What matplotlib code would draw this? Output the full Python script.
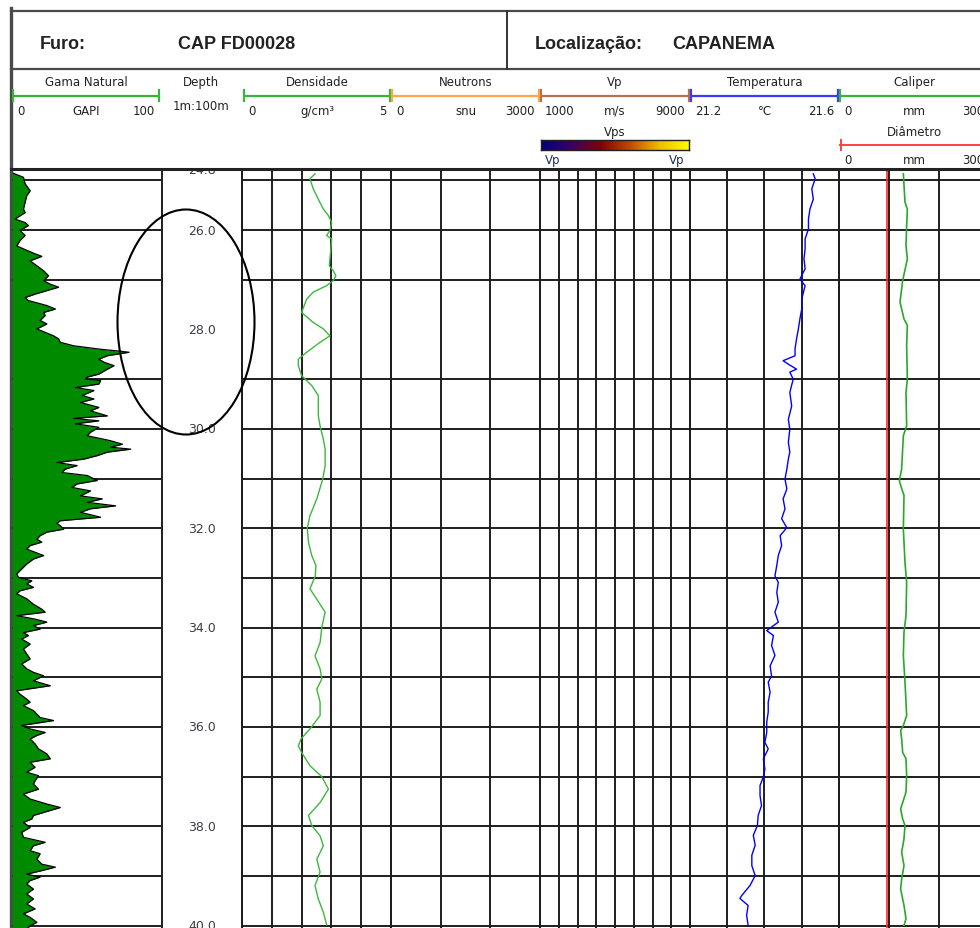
import numpy as np
import matplotlib
matplotlib.use("Agg")
import matplotlib.pyplot as plt
from matplotlib.patches import Ellipse
from matplotlib.colors import LinearSegmentedColormap

plt.rcParams['font.family'] = ['DejaVu Sans']

# ---------------------------------------------------------------- data
well_name = "CAP FD00028"
location = "CAPANEMA"

track_titles = ["Gama Natural", "Depth", "Densidade", "Neutrons", "Vp",
                "Temperatura", "Caliper"]

depth_labels = [26.0, 28.0, 30.0, 32.0, 34.0, 36.0, 38.0, 40.0]
top_depth_label = 24.8
grid_depths = [25, 26, 27, 29, 30, 31, 32, 33, 34, 35, 36, 37, 38, 39, 40]

gamma_depth = [24.86, 24.94, 25.07, 25.21, 25.31, 25.44, 25.58, 25.65, 25.78, 25.85,
               25.91, 26.01, 26.11, 26.21, 26.32, 26.38, 26.48, 26.53, 26.62, 26.72,
               26.82, 26.92, 27.02, 27.09, 27.15, 27.22, 27.29, 27.36, 27.42, 27.52,
               27.59, 27.66, 27.72, 27.82, 27.89, 27.99, 28.06, 28.13, 28.19, 28.26,
               28.33, 28.40, 28.44, 28.46, 28.53, 28.60, 28.66, 28.73, 28.80, 28.90,
               28.96, 29.00, 29.03, 29.10, 29.17, 29.23, 29.33, 29.40, 29.47, 29.57,
               29.64, 29.74, 29.79, 29.84, 29.90, 29.97, 30.07, 30.14, 30.24, 30.31,
               30.37, 30.41, 30.47, 30.54, 30.61, 30.68, 30.74, 30.81, 30.88, 30.94,
               31.04, 31.11, 31.18, 31.25, 31.35, 31.41, 31.48, 31.55, 31.61, 31.68,
               31.78, 31.85, 31.90, 31.95, 32.02, 32.08, 32.15, 32.22, 32.28, 32.35,
               32.42, 32.55, 32.62, 32.72, 32.82, 32.92, 32.99, 33.06, 33.12, 33.19,
               33.26, 33.32, 33.42, 33.53, 33.63, 33.69, 33.76, 33.83, 33.89, 33.96,
               34.03, 34.10, 34.16, 34.23, 34.33, 34.43, 34.53, 34.63, 34.73, 34.83,
               34.90, 34.97, 35.07, 35.17, 35.27, 35.34, 35.44, 35.50, 35.57, 35.67,
               35.74, 35.81, 35.87, 35.97, 36.04, 36.11, 36.17, 36.24, 36.34, 36.44,
               36.54, 36.64, 36.71, 36.81, 36.91, 36.98, 37.08, 37.15, 37.25, 37.35,
               37.45, 37.55, 37.62, 37.68, 37.78, 37.85, 37.92, 38.02, 38.12, 38.22,
               38.32, 38.39, 38.49, 38.55, 38.66, 38.76, 38.82, 38.89, 38.96, 39.02,
               39.09, 39.16, 39.26, 39.36, 39.46, 39.56, 39.66, 39.76, 39.83, 39.93,
               40.00, 40.06]
gamma_api = [1.0, 7.7, 8.8, 12.2, 9.9, 8.8, 7.7, 8.8, 2.0, 8.8,
             11.0, 5.4, 8.8, 5.4, 3.2, 7.7, 15.5, 20.0, 12.2, 16.7,
             21.2, 24.5, 21.2, 25.7, 31.3, 23.4, 15.5, 8.8, 11.0, 23.4,
             29.1, 21.2, 22.3, 18.9, 23.4, 16.7, 22.3, 27.9, 31.3, 32.4,
             41.4, 59.5, 73.0, 78.6, 64.0, 58.3, 61.7, 68.5, 64.0, 58.3,
             50.5, 49.3, 59.5, 58.3, 42.6, 55.0, 47.1, 55.0, 46.0, 58.3,
             52.7, 64.0, 41.4, 58.3, 42.6, 58.3, 52.7, 50.5, 66.2, 74.1,
             66.2, 79.7, 64.0, 57.2, 48.2, 30.2, 43.7, 35.8, 33.6, 50.5,
             57.2, 43.7, 40.3, 52.7, 46.0, 60.6, 50.5, 69.6, 52.7, 46.0,
             59.5, 32.4, 30.2, 32.4, 34.7, 23.4, 18.9, 16.7, 20.0, 12.2,
             9.9, 21.2, 14.4, 9.9, 6.5, 3.2, 4.3, 13.3, 9.9, 14.4,
             5.4, 3.2, 9.9, 14.4, 20.0, 22.3, 3.2, 15.5, 23.4, 14.4,
             18.9, 7.7, 11.0, 6.5, 12.2, 7.7, 9.9, 12.2, 6.5, 9.9,
             14.4, 21.2, 14.4, 25.7, 3.2, 5.4, 9.9, 12.2, 7.7, 14.4,
             16.7, 18.9, 27.9, 6.5, 12.2, 22.3, 16.7, 12.2, 15.5, 17.8,
             23.4, 25.7, 12.2, 15.5, 9.9, 17.8, 15.5, 14.4, 17.8, 7.7,
             12.2, 23.4, 32.4, 25.7, 14.4, 13.3, 7.7, 12.2, 6.5, 7.7,
             22.3, 14.4, 12.2, 18.9, 16.7, 20.0, 29.1, 20.0, 9.9, 18.9,
             12.2, 9.9, 14.4, 9.9, 14.4, 9.9, 15.5, 7.7, 12.2, 16.7,
             12.2, 10.0]

dens_depth = [24.87, 24.97, 25.17, 25.38, 25.58, 25.71, 25.85, 26.01, 26.11, 26.18,
              26.32, 26.58, 26.72, 26.82, 26.92, 27.02, 27.12, 27.25, 27.39, 27.66,
              27.86, 27.99, 28.13, 28.26, 28.46, 28.60, 28.73, 28.93, 29.13, 29.33,
              29.54, 29.74, 29.94, 30.21, 30.41, 30.74, 31.01, 31.41, 31.75, 32.00,
              32.28, 32.55, 32.75, 32.96, 33.22, 33.42, 33.69, 33.99, 34.30, 34.57,
              34.83, 35.03, 35.24, 35.50, 35.77, 36.04, 36.24, 36.38, 36.51, 36.78,
              37.00, 37.25, 37.52, 37.78, 37.98, 38.19, 38.39, 38.66, 38.92, 39.19,
              39.46, 39.73, 39.98]
dens_gcc = [2.45, 2.28, 2.39, 2.56, 2.73, 2.90, 3.01, 2.95, 2.84, 3.01,
            2.99, 2.95, 2.93, 3.06, 3.15, 3.06, 2.84, 2.39, 2.17, 2.00,
            2.39, 2.73, 2.95, 2.62, 2.17, 1.89, 1.89, 2.00, 2.34, 2.56,
            2.56, 2.56, 2.62, 2.73, 2.79, 2.79, 2.71, 2.51, 2.28, 2.19,
            2.23, 2.34, 2.48, 2.46, 2.28, 2.50, 2.79, 2.68, 2.62, 2.45,
            2.62, 2.68, 2.51, 2.62, 2.62, 2.28, 1.98, 1.89, 2.00, 2.28,
            2.68, 2.90, 2.62, 2.23, 2.34, 2.62, 2.73, 2.51, 2.62, 2.45,
            2.56, 2.73, 2.84]

temp_depth = [24.87, 24.97, 25.17, 25.38, 25.58, 25.78, 25.98, 26.18, 26.38, 26.58,
              26.78, 26.99, 27.12, 27.39, 27.59, 27.79, 27.99, 28.19, 28.39, 28.53,
              28.63, 28.70, 28.80, 28.86, 29.00, 29.27, 29.54, 29.81, 30.01, 30.27,
              30.47, 30.61, 30.81, 31.01, 31.21, 31.41, 31.61, 31.81, 31.99, 32.15,
              32.35, 32.55, 32.75, 32.96, 33.09, 33.29, 33.49, 33.69, 33.89, 34.06,
              34.16, 34.36, 34.56, 34.77, 34.97, 35.10, 35.30, 35.50, 35.70, 35.90,
              36.11, 36.31, 36.44, 36.64, 36.85, 37.00, 37.18, 37.38, 37.58, 37.78,
              37.98, 38.18, 38.38, 38.58, 38.79, 38.99, 39.19, 39.39, 39.45, 39.59,
              39.79, 39.99]
temp_c = [21.531, 21.536, 21.527, 21.531, 21.522, 21.518, 21.518, 21.509, 21.509, 21.506,
          21.509, 21.495, 21.509, 21.500, 21.500, 21.495, 21.491, 21.486, 21.482, 21.482,
          21.450, 21.464, 21.486, 21.468, 21.477, 21.468, 21.473, 21.464, 21.468, 21.464,
          21.468, 21.464, 21.460, 21.455, 21.460, 21.450, 21.455, 21.446, 21.460, 21.442,
          21.446, 21.437, 21.433, 21.428, 21.437, 21.433, 21.437, 21.428, 21.437, 21.406,
          21.424, 21.419, 21.428, 21.415, 21.419, 21.410, 21.415, 21.410, 21.410, 21.406,
          21.406, 21.401, 21.410, 21.397, 21.401, 21.397, 21.388, 21.388, 21.392, 21.383,
          21.381, 21.370, 21.375, 21.366, 21.366, 21.375, 21.361, 21.339, 21.334, 21.356,
          21.352, 21.356]

cal_depth = [24.87, 25.44, 25.58, 25.92, 26.32, 26.58, 27.02, 27.45, 27.79, 27.92,
             28.33, 29.00, 29.27, 29.94, 30.14, 30.41, 30.81, 31.04, 31.14, 31.34,
             32.02, 32.69, 33.09, 33.76, 34.09, 34.56, 35.10, 35.77, 35.97, 36.07,
             36.24, 36.51, 36.64, 36.98, 37.31, 37.65, 37.85, 37.98, 38.25, 38.52,
             38.79, 39.06, 39.26, 39.59, 39.86, 39.99]
cal_mm = [128.7, 132.0, 136.7, 135.3, 134.0, 136.7, 127.3, 122.0, 130.0, 136.7,
          135.3, 136.7, 134.0, 135.3, 128.7, 127.3, 125.3, 120.7, 123.3, 130.0,
          128.7, 132.0, 135.3, 134.0, 130.0, 128.7, 132.0, 135.3, 128.7, 123.3,
          125.3, 127.3, 134.0, 135.3, 134.0, 123.3, 127.3, 132.0, 130.0, 125.3,
          130.0, 125.3, 123.3, 130.0, 134.0, 130.0]
bit_diameter_mm = 96.0

# ---------------------------------------------------------------- layout
W, H = 980, 929
PX_PER_M = 49.7            # vertical scale 1m:100m
REF_DEPTH, REF_Y = 26.0, 231.0
LOG_TOP_Y = 170.0
D_TOP = REF_DEPTH - (REF_Y - LOG_TOP_Y) / PX_PER_M
D_BOT = REF_DEPTH + (H - REF_Y) / PX_PER_M

GRID = '#1e1e1e'
GRID_LW = 1.4
FRAME = '#4a4a4a'
TXT = '#222222'

fig = plt.figure(figsize=(W / 100, H / 100), dpi=100)
fig.patch.set_facecolor('white')

canvas = fig.add_axes([0, 0, 1, 1], zorder=0)
canvas.set_xlim(0, W)
canvas.set_ylim(H, 0)
canvas.axis('off')


def track(x0, x1, xlim, vlines=(), hgrid=True, z=2):
    ax = fig.add_axes([x0 / W, 0, (x1 - x0) / W, (H - LOG_TOP_Y) / H], zorder=z)
    ax.set_xlim(*xlim)
    ax.set_ylim(D_BOT, D_TOP)
    ax.axis('off')
    if hgrid:
        for d in grid_depths:
            ax.axhline(d, color=GRID, lw=GRID_LW, zorder=1)
    for v in vlines:
        ax.axvline(v, color=GRID, lw=GRID_LW, zorder=1, clip_on=False)
    return ax


# ---------------------------------------------------------------- tracks
ax_gr = track(12, 161, (0, 100))
ax_gr.fill_betweenx(gamma_depth, 0, gamma_api, color='#008a00', lw=0, zorder=2)
ax_gr.plot(gamma_api, gamma_depth, color='black', lw=0.9, zorder=3)

ax_dp = track(162, 242, (0, 1), vlines=(0, 1), hgrid=False)
for d in depth_labels:
    ax_dp.text(0.5, d, f"{d:.1f}", ha='center', va='center', fontsize=9,
               color='#3c3c48')
# first reading at the very top of the log, cut by the header edge
top_lbl = ax_dp.text(0.5, D_TOP, f"{top_depth_label:.1f}", ha='center',
                     va='center', fontsize=9, color='#3c3c48')
top_lbl.set_clip_on(True)
top_lbl.set_clip_box(ax_dp.bbox)

ax_de = track(242, 391, (0, 5), vlines=(0, 1, 2, 3, 4, 5))
ax_de.plot(dens_gcc, dens_depth, color='#3cb83c', lw=1.0, zorder=3)

ax_ne = track(391, 540, (0, 3000), vlines=(0, 1000, 2000, 3000))

ax_vp = track(540, 690, (1000, 9000), vlines=range(1000, 9001, 1000))

ax_te = track(690, 839, (21.2, 21.6), vlines=(21.2, 21.3, 21.4, 21.5, 21.6))
ax_te.plot(temp_c, temp_depth, color='#0000ff', lw=1.0, zorder=3)

ax_ca = track(839, 989, (0, 300), vlines=(0, 100, 200, 300))
ax_ca.axvline(bit_diameter_mm, color='#ff2a2a', lw=1.2, zorder=3)
ax_ca.plot(cal_mm, cal_depth, color='#2aa82a', lw=1.2, zorder=4)

# ---------------------------------------------------------------- header frame
canvas.plot([11, W], [12, 12], color=FRAME, lw=1.6)
canvas.plot([11, W], [70, 70], color=FRAME, lw=1.6)
canvas.plot([11, 11], [9, H], color=FRAME, lw=2.4)
canvas.plot([507, 507], [12, 70], color='#333333', lw=1.4)

title_font = dict(family='Liberation Sans', fontweight='bold', fontsize=13,
                  color=TXT, va='center', ha='left')
canvas.text(40, 44, "Furo:", **title_font)
canvas.text(178, 44, well_name, **title_font)
canvas.text(535, 44, "Localização:", **title_font)
canvas.text(672, 44, location, **title_font)

# track headers: title, coloured scale bar, unit labels
hdr = [
    # x0, x1, title, colour, left, unit, right
    (12, 160, track_titles[0], '#3cb43c', "0", "GAPI", "100"),
    (243, 391, track_titles[2], '#3cb43c', "0", "g/cm³", "5"),
    (391, 540, track_titles[3], '#ffa64d', "0", "snu", "3000"),
    (540, 690, track_titles[4], '#b8704f', "1000", "m/s", "9000"),
    (690, 839, track_titles[5], '#3a3aff', "21.2", "°C", "21.6"),
    (839, 989, track_titles[6], '#3cb43c', "0", "mm", "300"),
]
small = dict(fontsize=8.5, color=TXT, va='center')
for x0, x1, title, col, lo, unit, hi in hdr:
    xc = (x0 + x1) / 2
    canvas.text(xc, 82, title, ha='center', **small)
    canvas.plot([x0, x1], [96.5, 96.5], color=col, lw=1.6, solid_capstyle='butt')
    canvas.plot([x0 + 1, x0 + 1], [91, 102], color=col, lw=1.6)
    canvas.plot([x1 - 1, x1 - 1], [91, 102], color=col, lw=1.6)
    canvas.text(x0 + 5, 111, lo, ha='left', **small)
    canvas.text(xc, 111, unit, ha='center', **small)
    canvas.text(x1 - 5, 111, hi, ha='right', **small)

canvas.text(201, 82, track_titles[1], ha='center', **small)
canvas.text(201, 106, "1m:100m", ha='center', **small)

# Vps colour scale
canvas.text(615, 132, "Vps", ha='center', **small)
vps_cmap = LinearSegmentedColormap.from_list(
    "vps", ['#000080', '#3a0060', '#800008', '#c44a00', '#eec000', '#ffff00'])
cax = fig.add_axes([541 / W, 1 - 151 / H, 148 / W, 10 / H], zorder=3)
cax.imshow(np.linspace(0, 1, 256)[None, :], aspect='auto', cmap=vps_cmap)
cax.set_xticks([])
cax.set_yticks([])
for s in cax.spines.values():
    s.set_color('#202020')
    s.set_linewidth(1.0)
canvas.text(553, 160, "Vp", ha='center', fontsize=8.5, color='#1c2c5c', va='center')
canvas.text(677, 160, "Vp", ha='center', fontsize=8.5, color='#1c2c5c', va='center')

# Diâmetro scale
canvas.text(914, 132, "Diâmetro", ha='center', **small)
canvas.plot([840, 989], [146, 146], color='#ff4040', lw=1.4)
canvas.plot([841, 841], [141, 151], color='#ff4040', lw=1.4)
canvas.text(844, 160, "0", ha='left', **small)
canvas.text(914, 160, "mm", ha='center', **small)
canvas.text(984, 160, "300", ha='right', **small)

# header bottom rule and annotation drawn above the tracks
overlay = fig.add_axes([0, 0, 1, 1], zorder=20)
overlay.set_xlim(0, W)
overlay.set_ylim(H, 0)
overlay.axis('off')
overlay.plot([11, W], [170, 170], color='#222222', lw=2.2)
overlay.add_patch(Ellipse((186, 323), 137, 225, fill=False, ec='black', lw=1.5))

fig.savefig("out.png", dpi=100, facecolor='white')
